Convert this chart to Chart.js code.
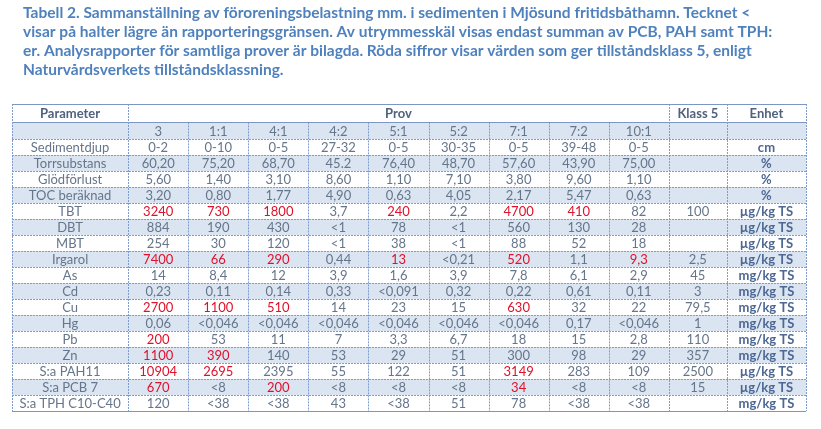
<!DOCTYPE html>
<html>
<head>
<meta charset="utf-8">
<script src="https://cdn.jsdelivr.net/npm/chart.js@4"></script>
<style>
  html, body { margin: 0; padding: 0; background: #ffffff; }
  canvas { display: block; }
</style>
</head>
<body>
<canvas id="tableChart" width="821" height="429"></canvas>
<script>
// Caption
var titleLines = [
    'Tabell 2. Sammanställning av föroreningsbelastning mm. i sedimenten i Mjösund fritidsbåthamn. Tecknet <',
    'visar på halter lägre än rapporteringsgränsen. Av utrymmesskäl visas endast summan av PCB, PAH samt TPH:',
    'er. Analysrapporter för samtliga prover är bilagda. Röda siffror visar värden som ger tillståndsklass 5, enligt',
    'Naturvårdsverkets tillståndsklassning.'
];

// Table data
var headers = ['Parameter', 'Prov', 'Klass 5', 'Enhet'];
var samples = ['3', '1:1', '4:1', '4:2', '5:1', '5:2', '7:1', '7:2', '10:1'];
var parameters = ['Sedimentdjup', 'Torrsubstans', 'Glödförlust', 'TOC beräknad', 'TBT', 'DBT', 'MBT', 'Irgarol',
    'As', 'Cd', 'Cu', 'Hg', 'Pb', 'Zn', 'S:a PAH11', 'S:a PCB 7', 'S:a TPH C10-C40'];

var sedimentdjup = ['0-2', '0-10', '0-5', '27-32', '0-5', '30-35', '0-5', '39-48', '0-5'];
var torrsubstans = ['60,20', '75,20', '68,70', '45.2', '76,40', '48,70', '57,60', '43,90', '75,00'];
var glodforlust = ['5,60', '1,40', '3,10', '8,60', '1,10', '7,10', '3,80', '9,60', '1,10'];
var tocBeraknad = ['3,20', '0,80', '1,77', '4,90', '0,63', '4,05', '2,17', '5,47', '0,63'];
var tbt = ['3240', '730', '1800', '3,7', '240', '2,2', '4700', '410', '82'];
var dbt = ['884', '190', '430', '<1', '78', '<1', '560', '130', '28'];
var mbt = ['254', '30', '120', '<1', '38', '<1', '88', '52', '18'];
var irgarol = ['7400', '66', '290', '0,44', '13', '<0,21', '520', '1,1', '9,3'];
var as = ['14', '8,4', '12', '3,9', '1,6', '3,9', '7,8', '6,1', '2,9'];
var cd = ['0,23', '0,11', '0,14', '0,33', '<0,091', '0,32', '0,22', '0,61', '0,11'];
var cu = ['2700', '1100', '510', '14', '23', '15', '630', '32', '22'];
var hg = ['0,06', '<0,046', '<0,046', '<0,046', '<0,046', '<0,046', '<0,046', '0,17', '<0,046'];
var pb = ['200', '53', '11', '7', '3,3', '6,7', '18', '15', '2,8'];
var zn = ['1100', '390', '140', '53', '29', '51', '300', '98', '29'];
var pah11 = ['10904', '2695', '2395', '55', '122', '51', '3149', '283', '109'];
var pcb7 = ['670', '<8', '200', '<8', '<8', '<8', '34', '<8', '<8'];
var tph = ['120', '<38', '<38', '43', '<38', '51', '78', '<38', '<38'];

var klass5 = ['', '', '', '', '100', '', '', '2,5', '45', '3', '79,5', '1', '110', '357', '2500', '15', ''];
var enhet = ['cm', '%', '%', '%', 'µg/kg TS', 'µg/kg TS', 'µg/kg TS', 'µg/kg TS', 'mg/kg TS', 'mg/kg TS',
    'mg/kg TS', 'mg/kg TS', 'mg/kg TS', 'mg/kg TS', 'µg/kg TS', 'µg/kg TS', 'mg/kg TS'];

var values = [sedimentdjup, torrsubstans, glodforlust, tocBeraknad, tbt, dbt, mbt, irgarol,
    as, cd, cu, hg, pb, zn, pah11, pcb7, tph];

// Layout (column widths and row heights in scale units)
var colWidths = [116, 60, 60, 60, 60, 60, 60, 60, 60, 60, 58, 79];
var rowHeights = [18.4, 16.6];
parameters.forEach(function() { rowHeights.push(16); });

function cumulative(list) {
    var out = [0];
    list.forEach(function(w) { out.push(out[out.length - 1] + w); });
    return out;
}
var colEdges = cumulative(colWidths);
var rowEdges = cumulative(rowHeights);

function toNumber(s) {
    return parseFloat(String(s).replace(',', '.'));
}
// Red = value reaching tillståndsklass 5
function isRed(value, limit) {
    if (!limit || value.charAt(0) === '<') return false;
    return toNumber(value) >= toNumber(limit);
}

var tablePlugin = {
    id: 'tablePlugin',
    afterDraw: function(chart) {
        var ctx = chart.ctx;
        var x = chart.scales.x;
        var y = chart.scales.y;
        var px = function(v) { return x.getPixelForValue(v); };
        var py = function(v) { return y.getPixelForValue(v); };
        var nCols = colWidths.length;
        var nRows = rowHeights.length;

        ctx.save();

        // title, squeezed a little so the first line ends where the original does
        ctx.fillStyle = '#4f81bd';
        ctx.textBaseline = 'middle';
        ctx.textAlign = 'left';
        ctx.font = 'bold 15.5px Lato';
        var sx = Math.min(1, 744 / ctx.measureText(titleLines[0]).width);
        ctx.save();
        ctx.translate(23, 0);
        ctx.scale(sx, 1);
        titleLines.forEach(function(line, i) {
            ctx.fillText(line, 0, 13 + i * 19);
        });
        ctx.restore();

        // shading
        ctx.fillStyle = '#dbe5f1';
        for (var r = 1; r < nRows; r += 2) {
            ctx.fillRect(px(colEdges[0]), py(rowEdges[r]), px(colEdges[nCols]) - px(colEdges[0]),
                py(rowEdges[r + 1]) - py(rowEdges[r]));
        }

        // grid
        ctx.lineWidth = 1;
        function hline(r, solid) {
            ctx.strokeStyle = solid ? '#7b96c2' : '#7f9ccc';
            ctx.setLineDash(solid ? [] : [2, 1]);
            var yy = Math.round(py(rowEdges[r])) + 0.5;
            ctx.beginPath();
            ctx.moveTo(px(colEdges[0]), yy);
            ctx.lineTo(px(colEdges[nCols]), yy);
            ctx.stroke();
        }
        function vline(c, r0) {
            ctx.strokeStyle = '#7f9ccc';
            ctx.setLineDash([2, 1]);
            var xx = Math.round(px(colEdges[c])) + 0.5;
            ctx.beginPath();
            ctx.moveTo(xx, py(rowEdges[r0]));
            ctx.lineTo(xx, py(rowEdges[nRows]));
            ctx.stroke();
        }
        for (var r2 = 2; r2 < nRows; r2++) hline(r2, false);
        hline(0, true);
        hline(1, true);
        hline(nRows, true);
        for (var c = 0; c <= nCols; c++) {
            var fullHeight = (c <= 1 || c >= samples.length + 1);
            vline(c, fullHeight ? 0 : 1);
        }
        ctx.setLineDash([]);

        // text
        ctx.textAlign = 'center';
        function cellText(text, c0, c1, r, font, color) {
            ctx.font = font;
            ctx.fillStyle = color;
            var cx = (px(colEdges[c0]) + px(colEdges[c1])) / 2;
            var cy = (py(rowEdges[r]) + py(rowEdges[r + 1])) / 2 + 1;
            ctx.fillText(text, cx, cy);
        }
        var bold = 'bold 13px Lato';
        var normal = '13px Lato';
        var headColor = '#50627e';
        var textColor = '#65758b';
        var unitColor = '#4d6894';
        var redColor = '#e0102a';

        cellText(headers[0], 0, 1, 0, bold, headColor);
        cellText(headers[1], 1, samples.length + 1, 0, bold, headColor);
        cellText(headers[2], nCols - 2, nCols - 1, 0, bold, headColor);
        cellText(headers[3], nCols - 1, nCols, 0, bold, headColor);

        samples.forEach(function(s, i) {
            cellText(s, i + 1, i + 2, 1, normal, textColor);
        });

        parameters.forEach(function(p, i) {
            var r = i + 2;
            cellText(p, 0, 1, r, normal, textColor);
            values[i].forEach(function(v, j) {
                cellText(v, j + 1, j + 2, r, normal, isRed(v, klass5[i]) ? redColor : textColor);
            });
            cellText(klass5[i], nCols - 2, nCols - 1, r, normal, textColor);
            cellText(enhet[i], nCols - 1, nCols, r, bold, unitColor);
        });

        ctx.restore();
    }
};

new Chart(document.getElementById('tableChart'), {
    type: 'scatter',
    data: { datasets: [] },
    options: {
        responsive: false,
        animation: false,
        devicePixelRatio: 1,
        layout: {
            padding: { left: 12, right: 15, top: 104, bottom: 18 }
        },
        plugins: {
            legend: { display: false },
            tooltip: { enabled: false },
            title: { display: false }
        },
        scales: {
            x: { type: 'linear', min: 0, max: colEdges[colEdges.length - 1], display: false },
            y: { type: 'linear', min: 0, max: rowEdges[rowEdges.length - 1], reverse: true, display: false }
        }
    },
    plugins: [tablePlugin]
});
</script>
</body>
</html>
